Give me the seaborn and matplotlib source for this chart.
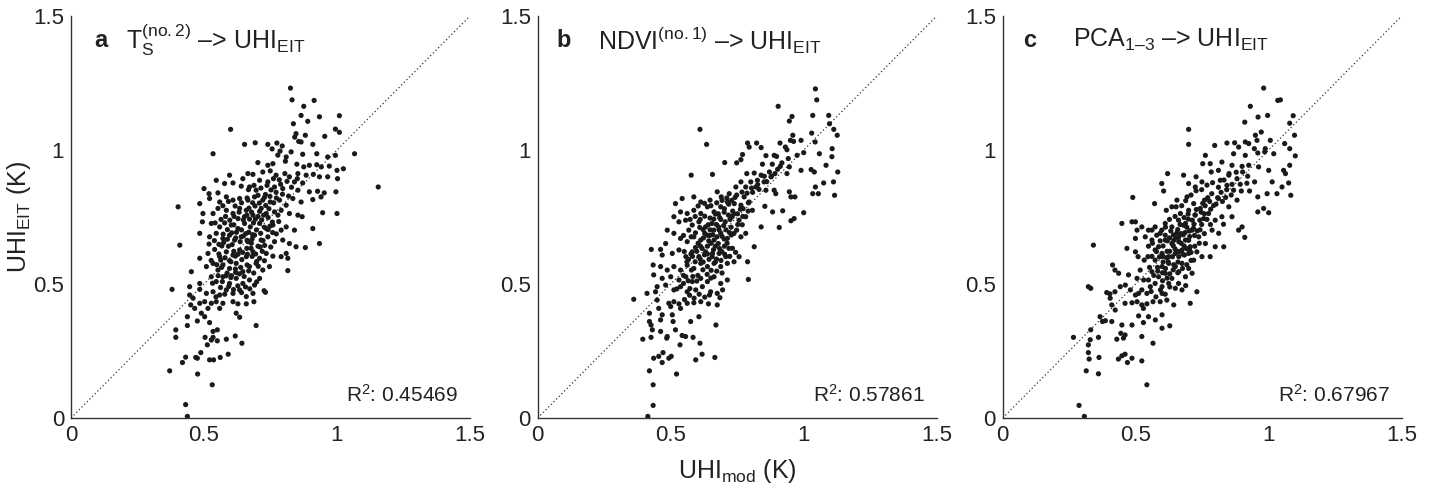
import matplotlib
matplotlib.use("Agg")
import matplotlib.pyplot as plt
import seaborn as sns
import pandas as pd

# ---- data: (UHI_mod, UHI_EIT) pairs ----
panel_a_pts = [
    (0.825,1.231),(0.831,1.187),(0.914,1.185),(0.875,1.163),(0.865,1.129),(0.934,1.124),(1.009,1.128),
    (0.836,1.098),(0.89,1.107),(0.60,1.077),(0.994,1.078),(1.009,1.066),(0.846,1.061),(0.881,1.055),
    (0.954,1.051),(0.841,1.048),(0.856,1.032),(0.865,1.03),(0.6525,1.021),(0.6925,1.027),(0.74,1.021),
    (0.774,1.026),(0.794,1.015),(0.909,1.021),(0.756,1.004),(0.534,0.986),(0.786,0.996),(0.8275,0.993),
    (0.871,0.984),(0.924,0.986),(0.965,0.974),(0.994,0.98),(1.066,0.986),(0.809,0.974),(0.7775,0.981),
    (0.7025,0.953),(0.74,0.943),(0.759,0.949),(0.806,0.958),(0.849,0.947),(0.875,0.937),(0.896,0.943),
    (0.924,0.945),(0.941,0.937),(0.971,0.94),(1.024,0.93),(1.0,0.924),(0.596,0.906),(0.665,0.912),
    (0.684,0.909),(0.721,0.918),(0.749,0.922),(0.771,0.906),(0.804,0.912),(0.821,0.9),(0.853,0.912),
    (0.884,0.906),(0.911,0.909),(0.934,0.9),(0.965,0.9),(1.002,0.893),(0.546,0.887),(0.646,0.893),
    (0.709,0.887),(0.74,0.881),(0.84,0.881),(0.871,0.877),(0.5,0.856),(0.5775,0.875),(0.609,0.877),
    (0.64,0.865),(0.671,0.862),(0.696,0.85),(0.765,0.862),(0.796,0.856),(0.853,0.85),(0.896,0.844),
    (0.927,0.846),(0.952,0.84),(0.996,0.844),(1.155,0.862),(0.519,0.837),(0.5525,0.84),(0.484,0.8),
    (0.521,0.819),(0.559,0.806),(0.584,0.825),(0.609,0.813),(0.634,0.819),(0.665,0.813),(0.69,0.825),
    (0.721,0.813),(0.749,0.806),(0.784,0.813),(0.809,0.794),(0.834,0.819),(0.865,0.806),(0.909,0.815),
    (0.94,0.825),(0.4025,0.788),(0.496,0.763),(0.534,0.763),(0.5525,0.782),(0.584,0.775),(0.609,0.763),
    (0.634,0.782),(0.659,0.775),(0.684,0.757),(0.715,0.782),(0.734,0.763),(0.765,0.769),(0.79,0.775),
    (0.821,0.763),(0.853,0.757),(0.869,0.751),(0.946,0.766),(1.0,0.763),(0.494,0.732),(0.5275,0.726),
    (0.559,0.713),(0.5775,0.728),(0.6025,0.72),(0.6275,0.707),(0.6525,0.726),(0.674,0.713),(0.709,0.726),
    (0.734,0.707),(0.759,0.72),(0.79,0.701),(0.809,0.713),(0.84,0.701),(0.909,0.707),(0.484,0.689),
    (0.521,0.676),(0.546,0.689),(0.571,0.67),(0.596,0.682),(0.615,0.664),(0.64,0.676),(0.665,0.658),
    (0.69,0.682),(0.715,0.664),(0.74,0.676),(0.765,0.658),(0.796,0.664),(0.821,0.651),(0.846,0.639),
    (0.881,0.636),(0.934,0.651),(0.409,0.645),(0.519,0.649),(0.484,0.596),(0.515,0.614),(0.54,0.629),
    (0.559,0.602),(0.584,0.62),(0.609,0.608),(0.634,0.627),(0.659,0.602),(0.684,0.62),(0.709,0.596),
    (0.734,0.614),(0.759,0.604),(0.79,0.602),(0.809,0.614),(0.815,0.596),(0.509,0.565),(0.534,0.577),
    (0.5525,0.552),(0.571,0.571),(0.596,0.558),(0.621,0.577),(0.646,0.546),(0.671,0.565),(0.696,0.577),
    (0.721,0.552),(0.746,0.565),(0.815,0.55),(0.4525,0.546),(0.5275,0.527),(0.546,0.509),(0.571,0.527),
    (0.596,0.502),(0.621,0.521),(0.646,0.502),(0.671,0.515),(0.69,0.496),(0.709,0.521),(0.484,0.502),
    (0.446,0.49),(0.38,0.48),(0.484,0.48),(0.509,0.465),(0.534,0.471),(0.559,0.459),(0.584,0.478),
    (0.609,0.465),(0.634,0.478),(0.659,0.453),(0.684,0.465),(0.731,0.469),(0.726,0.475),(0.446,0.459),
    (0.459,0.447),(0.484,0.428),(0.5025,0.434),(0.5275,0.428),(0.546,0.434),(0.571,0.428),(0.609,0.434),
    (0.6275,0.426),(0.659,0.426),(0.6875,0.434),(0.45,0.422),(0.465,0.409),(0.515,0.409),(0.559,0.409),
    (0.621,0.391),(0.634,0.376),(0.49,0.391),(0.4375,0.378),(0.5025,0.378),(0.475,0.362),(0.521,0.356),
    (0.4375,0.345),(0.696,0.345),(0.55,0.329),(0.394,0.329),(0.534,0.323),(0.394,0.301),(0.504,0.301),
    (0.534,0.301),(0.55,0.288),(0.584,0.294),(0.6175,0.306),(0.5125,0.273),(0.6425,0.279),(0.5275,0.291),
    (0.419,0.207),(0.431,0.227),(0.469,0.226),(0.475,0.223),(0.488,0.244),(0.521,0.217),(0.536,0.217),
    (0.561,0.226),(0.591,0.238),(0.371,0.176),(0.476,0.164),(0.531,0.124),(0.431,0.05),(0.4375,0.006),
    (0.574,0.655),(0.592,0.641),(0.606,0.647),(0.622,0.693),(0.641,0.702),(0.657,0.688),(0.671,0.742),
    (0.686,0.728),(0.703,0.752),(0.717,0.739),(0.732,0.793),(0.744,0.781),(0.762,0.803),(0.601,0.583),
    (0.618,0.604),(0.642,0.591),(0.661,0.633),(0.678,0.652),(0.703,0.641),(0.722,0.662),(0.741,0.703),
    (0.758,0.692),(0.781,0.733),(0.566,0.562),(0.583,0.531),(0.601,0.524),(0.619,0.543),(0.638,0.562),
    (0.662,0.571),(0.681,0.603),(0.698,0.584),(0.719,0.622),(0.556,0.612),(0.567,0.642),(0.588,0.703),
    (0.612,0.721),(0.628,0.744),(0.652,0.751),(0.669,0.783),(0.692,0.791),(0.708,0.802),(0.731,0.834),
    (0.752,0.851),(0.771,0.842),(0.788,0.872),(0.812,0.883),(0.829,0.861),(0.851,0.893),(0.662,0.663),
    (0.683,0.684),
    (0.545,0.452),(0.562,0.487),(0.578,0.462),(0.593,0.491),(0.611,0.479),(0.627,0.493),(0.641,0.468),
    (0.656,0.489),(0.672,0.482),(0.698,0.508),(0.532,0.503),(0.553,0.531),(0.569,0.509),(0.587,0.541),
    (0.603,0.531),(0.618,0.556),(0.633,0.538),(0.651,0.528),(0.668,0.549),(0.687,0.541),(0.704,0.566),
    (0.727,0.587),(0.527,0.588),(0.548,0.572),(0.563,0.589),(0.579,0.598),(0.596,0.587),(0.612,0.622),
    (0.628,0.611),(0.645,0.618),(0.663,0.611),(0.677,0.633),(0.694,0.612),(0.711,0.638),(0.728,0.644),
    (0.751,0.638),(0.539,0.662),(0.556,0.648),(0.572,0.686),(0.588,0.667),(0.604,0.691),(0.619,0.672),
    (0.636,0.658),(0.648,0.679),(0.668,0.693),(0.681,0.668),(0.697,0.702),(0.713,0.689),(0.727,0.712),
    (0.748,0.716),(0.772,0.687),(0.542,0.728),(0.564,0.741),(0.581,0.752),(0.597,0.738),(0.613,0.752),
    (0.632,0.768),(0.648,0.739),(0.661,0.757),(0.679,0.768),(0.693,0.742),(0.709,0.771),(0.724,0.757),
    (0.741,0.748),(0.757,0.731),(0.778,0.757),(0.571,0.792),(0.592,0.808),(0.617,0.791),(0.641,0.803),
    (0.662,0.821),(0.683,0.803),(0.703,0.831),(0.727,0.823),(0.748,0.827),(0.772,0.821),(0.795,0.835),
    (0.818,0.828),(0.667,0.852),(0.688,0.868),(0.714,0.858),(0.737,0.868),(0.761,0.893),(0.783,0.889),
]

panel_b_pts = [
    (1.044,1.228),(1.049,1.187),(0.904,1.163),(0.956,1.125),(0.946,1.108),(1.034,1.129),(1.094,1.129),
    (1.097,1.098),(0.61,1.077),(1.113,1.077),(1.126,1.055),(0.959,1.055),(0.95,1.036),(0.635,1.021),
    (1.03,1.063),(0.962,1.032),(0.911,1.026),(0.931,1.011),(0.99,1.036),(1.043,1.03),(0.789,1.026),
    (0.823,1.026),(0.795,1.011),(0.84,1.009),(1.107,1.005),(1.059,0.986),(1.0,0.99),(0.975,0.98),
    (0.937,1.001),(0.858,0.979),(0.889,0.98),(0.898,0.976),(0.77,0.983),(1.106,0.975),(0.703,0.953),
    (0.748,0.952),(0.764,0.964),(0.845,0.947),(0.882,0.947),(0.912,0.939),(0.946,0.937),(0.99,0.924),
    (1.028,0.927),(1.084,0.943),(1.128,0.918),(1.04,0.918),(0.937,0.912),(0.577,0.906),(0.657,0.909),
    (0.786,0.912),(0.814,0.914),(0.84,0.906),(0.877,0.9),(1.075,0.877),(1.112,0.881),(1.044,0.862),
    (1.055,0.837),(1.034,0.837),(1.116,0.831),(0.946,0.844),(0.952,0.825),(0.967,0.825),(0.858,0.85),
    (0.889,0.85),(0.895,0.837),(1.0,0.766),(0.964,0.744),(0.952,0.736),(0.908,0.711),(0.84,0.713),
    (0.792,0.517),(0.789,0.583),(0.814,0.639),(0.854,0.79),(0.883,0.769),(0.921,0.773),
    (0.518,0.8),(0.543,0.819),(0.587,0.825),(0.613,0.806),(0.648,0.813),(0.675,0.844),(0.69,0.825),
    (0.72,0.837),(0.745,0.862),(0.764,0.881),(0.782,0.862),(0.801,0.881),(0.826,0.887),(0.851,0.881),
    (0.82,0.862),(0.776,0.825),(0.795,0.806),(0.807,0.775),(0.764,0.794),(0.739,0.8),(0.713,0.806),
    (0.688,0.788),(0.663,0.769),(0.638,0.788),(0.613,0.763),(0.587,0.775),(0.562,0.763),(0.537,0.769),
    (0.512,0.751),(0.531,0.732),(0.556,0.738),(0.581,0.72),(0.606,0.732),(0.631,0.713),(0.655,0.726),
    (0.68,0.713),(0.705,0.732),(0.731,0.751),(0.757,0.738),(0.782,0.751),(0.782,0.689),(0.764,0.676),
    (0.738,0.689),(0.713,0.67),(0.688,0.689),(0.663,0.664),(0.638,0.682),(0.613,0.664),(0.587,0.676),
    (0.562,0.658),(0.537,0.67),(0.512,0.689),(0.487,0.701),(0.481,0.651),(0.462,0.629),(0.427,0.629),
    (0.468,0.608),(0.506,0.614),(0.531,0.627),(0.557,0.602),(0.581,0.62),(0.606,0.602),(0.631,0.62),
    (0.656,0.602),(0.682,0.614),(0.707,0.602),(0.732,0.633),(0.757,0.602),(0.738,0.583),(0.713,0.577),
    (0.688,0.565),(0.663,0.577),(0.638,0.565),(0.613,0.577),(0.587,0.558),(0.562,0.57),(0.537,0.552),
    (0.512,0.565),(0.487,0.552),(0.462,0.565),(0.434,0.571),(0.436,0.534),(0.468,0.521),(0.5,0.527),
    (0.531,0.515),(0.557,0.527),(0.581,0.509),(0.613,0.521),(0.638,0.509),(0.663,0.527),(0.688,0.502),
    (0.713,0.515),(0.449,0.49),(0.481,0.496),(0.512,0.478),(0.537,0.49),(0.562,0.471),(0.594,0.478),
    (0.619,0.49),(0.65,0.471),(0.675,0.465),(0.695,0.478),(0.361,0.443),(0.411,0.465),(0.443,0.471),
    (0.449,0.44),(0.493,0.428),(0.512,0.434),(0.531,0.426),(0.562,0.428),(0.587,0.43),(0.613,0.434),
    (0.642,0.426),(0.675,0.422),(0.685,0.449),(0.455,0.409),(0.5,0.416),(0.537,0.409),(0.468,0.385),
    (0.506,0.385),(0.42,0.391),(0.462,0.366),(0.509,0.36),(0.575,0.36),(0.606,0.378),(0.67,0.347),
    (0.426,0.347),(0.431,0.329),(0.42,0.36),(0.426,0.301),(0.395,0.294),(0.462,0.323),(0.487,0.304),
    (0.485,0.298),(0.518,0.329),(0.543,0.308),(0.556,0.304),(0.584,0.301),(0.535,0.273),(0.61,0.279),
    (0.594,0.217),(0.618,0.238),(0.666,0.226),(0.436,0.223),(0.455,0.23),(0.468,0.207),(0.471,0.244),
    (0.493,0.223),(0.502,0.23),(0.42,0.176),(0.522,0.164),(0.434,0.124),(0.434,0.047),(0.414,0.006),
    (0.622,0.703),(0.641,0.721),(0.662,0.742),(0.679,0.762),(0.702,0.781),(0.718,0.798),(0.742,0.823),
    (0.603,0.652),(0.618,0.633),(0.643,0.661),(0.658,0.684),(0.682,0.702),(0.699,0.718),(0.723,0.741),
    (0.738,0.762),(0.762,0.779),(0.582,0.603),(0.598,0.622),(0.622,0.582),(0.638,0.612),(0.661,0.628),
    (0.679,0.651),(0.701,0.668),(0.721,0.692),(0.561,0.583),(0.578,0.552),(0.602,0.532),(0.548,0.502),
    (0.572,0.483),(0.652,0.551),(0.668,0.582),(0.692,0.621),(0.712,0.652),(0.728,0.683),(0.752,0.722),
    (0.771,0.752),(0.792,0.803),(0.808,0.842),(0.832,0.853),(0.861,0.882),(0.879,0.902),(0.902,0.928),
    (0.918,0.952),(0.942,0.968),(0.623,0.672),(0.648,0.702),(0.672,0.722),(0.688,0.741),
    (0.552,0.442),(0.571,0.458),(0.588,0.447),(0.607,0.462),(0.628,0.451),(0.646,0.459),(0.523,0.482),
    (0.548,0.532),(0.566,0.512),(0.583,0.528),(0.598,0.511),(0.621,0.553),(0.637,0.536),(0.651,0.522),
    (0.673,0.548),(0.693,0.541),(0.551,0.621),(0.567,0.592),(0.576,0.612),(0.592,0.583),(0.611,0.593),
    (0.627,0.609),(0.644,0.592),(0.657,0.614),(0.672,0.593),(0.689,0.588),(0.703,0.611),(0.722,0.603),
    (0.744,0.618),(0.548,0.681),(0.568,0.701),(0.577,0.676),(0.593,0.691),(0.609,0.711),(0.628,0.689),
    (0.647,0.681),(0.662,0.701),(0.674,0.676),(0.693,0.678),(0.708,0.702),(0.727,0.712),(0.748,0.701),
    (0.769,0.721),(0.573,0.741),(0.592,0.752),(0.611,0.741),(0.628,0.753),(0.648,0.746),(0.668,0.761),
    (0.684,0.748),(0.701,0.768),(0.717,0.757),(0.733,0.772),(0.751,0.762),(0.772,0.781),(0.791,0.772),
    (0.603,0.791),(0.627,0.801),(0.651,0.792),(0.673,0.803),(0.693,0.812),(0.711,0.821),(0.729,0.812),
    (0.748,0.832),(0.768,0.843),(0.787,0.839),(0.804,0.858),(0.827,0.871),(0.852,0.902),(0.871,0.918),
    (0.892,0.912),(0.638,0.641),(0.652,0.652),(0.668,0.641),(0.684,0.632),(0.702,0.641),(0.719,0.633),
    (0.612,0.641),(0.593,0.636),
]

panel_c_pts = [
    (0.981,1.231),(1.034,1.185),(1.044,1.187),(0.931,1.163),(0.91,1.104),(0.96,1.123),(0.996,1.129),
    (1.092,1.128),(1.079,1.1),(0.699,1.077),(0.699,1.021),(0.797,1.017),(0.972,1.067),(0.95,1.055),
    (1.097,1.055),(1.006,1.036),(1.06,1.024),(1.079,1.005),(0.912,1.03),(0.925,1.024),(0.956,1.036),
    (0.946,1.005),(0.987,1.005),(1.019,0.986),(0.959,0.989),(0.985,0.993),(1.1,0.978),(0.872,1.027),
    (0.843,1.026),(0.887,1.011),(0.868,0.986),(0.912,0.98),(0.762,0.98),(0.752,0.949),(0.78,0.949),
    (0.824,0.955),(0.862,0.943),(0.9,0.939),(0.925,0.943),(0.962,0.937),(1.0,0.924),(1.079,0.943),
    (1.056,0.924),(1.063,0.912),(1.075,0.877),(1.013,0.881),(1.031,0.837),(1.05,0.862),(1.083,0.831),
    (0.994,0.837),(0.959,0.825),(0.981,0.782),(1.0,0.766),(0.959,0.769),(0.947,0.881),(0.91,0.674),
    (0.887,0.701),(0.9,0.713),(0.928,0.847),(0.897,0.847),(0.62,0.912),(0.598,0.875),(0.605,0.847),
    (0.489,0.823),(0.571,0.8),(0.68,0.906),(0.727,0.9),(0.724,0.862),(0.699,0.875),(0.749,0.881),
    (0.784,0.918),(0.811,0.924),(0.85,0.906),(0.818,0.887),(0.843,0.868),(0.868,0.85),(0.881,0.813),
    (0.85,0.788),(0.811,0.819),(0.786,0.837),(0.759,0.813),(0.824,0.751),(0.862,0.751),(0.83,0.723),
    (0.799,0.738),(0.774,0.763),(0.743,0.782),(0.718,0.8),(0.693,0.825),(0.655,0.813),(0.636,0.788),
    (0.615,0.775),(0.668,0.763),(0.699,0.775),(0.724,0.757),(0.756,0.744),(0.787,0.701),(0.812,0.689),
    (0.831,0.639),(0.799,0.639),(0.78,0.602),(0.762,0.651),(0.737,0.676),(0.712,0.701),(0.687,0.726),
    (0.661,0.738),(0.636,0.713),(0.611,0.726),(0.592,0.689),(0.573,0.713),(0.548,0.701),(0.536,0.676),
    (0.561,0.664),(0.586,0.639),(0.611,0.664),(0.636,0.651),(0.662,0.676),(0.687,0.664),(0.705,0.639),
    (0.73,0.62),(0.749,0.602),(0.718,0.589),(0.699,0.614),(0.674,0.627),(0.649,0.614),(0.624,0.602),
    (0.599,0.614),(0.573,0.627),(0.573,0.589),(0.599,0.565),(0.624,0.577),(0.649,0.565),(0.674,0.577),
    (0.699,0.558),(0.712,0.54),(0.687,0.527),(0.662,0.546),(0.636,0.521),(0.611,0.54),(0.586,0.527),
    (0.561,0.546),(0.548,0.515),(0.573,0.502),(0.599,0.49),(0.624,0.502),(0.649,0.484),(0.674,0.478),
    (0.73,0.471),(0.705,0.428),(0.599,0.465),(0.617,0.44),(0.643,0.422),(0.592,0.434),
    (0.448,0.726),(0.486,0.732),(0.499,0.732),(0.505,0.701),(0.499,0.67),(0.467,0.633),(0.499,0.62),
    (0.509,0.602),(0.523,0.713),(0.341,0.645),(0.413,0.571),(0.422,0.552),(0.436,0.54),(0.473,0.534),
    (0.505,0.521),(0.517,0.552),(0.53,0.515),(0.322,0.49),(0.331,0.484),(0.391,0.468),(0.403,0.463),
    (0.422,0.471),(0.442,0.49),(0.461,0.496),(0.48,0.478),(0.499,0.459),(0.511,0.465),(0.523,0.478),
    (0.542,0.465),(0.555,0.49),(0.404,0.447),(0.41,0.422),(0.423,0.403),(0.46,0.428),(0.486,0.43),
    (0.505,0.434),(0.523,0.422),(0.542,0.426),(0.565,0.434),(0.529,0.409),(0.511,0.381),(0.548,0.378),
    (0.599,0.385),(0.574,0.366),(0.366,0.378),(0.375,0.36),(0.386,0.363),(0.41,0.36),(0.448,0.347),
    (0.529,0.356),(0.599,0.335),(0.628,0.344),(0.331,0.329),(0.36,0.301),(0.329,0.292),(0.322,0.273),
    (0.429,0.294),(0.444,0.316),(0.454,0.298),(0.46,0.31),(0.523,0.304),(0.486,0.347),(0.266,0.301),
    (0.565,0.279),(0.322,0.244),(0.325,0.22),(0.362,0.226),(0.435,0.22),(0.448,0.232),(0.46,0.238),
    (0.469,0.207),(0.486,0.223),(0.523,0.213),(0.314,0.176),(0.36,0.165),(0.542,0.124),(0.287,0.047),
    (0.307,0.006),
    (0.602,0.603),(0.618,0.622),(0.641,0.643),(0.662,0.658),(0.679,0.684),(0.702,0.698),(0.719,0.723),
    (0.741,0.738),(0.758,0.762),(0.782,0.779),(0.622,0.583),(0.638,0.602),(0.661,0.621),(0.682,0.642),
    (0.699,0.663),(0.721,0.681),(0.742,0.702),(0.603,0.642),(0.619,0.661),(0.642,0.683),(0.658,0.703),
    (0.681,0.719),(0.698,0.742),(0.723,0.758),(0.582,0.562),(0.601,0.542),(0.618,0.522),(0.641,0.553),
    (0.659,0.582),(0.683,0.608),(0.702,0.628),(0.578,0.621),(0.561,0.603),(0.652,0.672),(0.671,0.688),
    (0.692,0.712),(0.752,0.801),(0.771,0.822),(0.802,0.798),(0.821,0.842),(0.838,0.823),(0.862,0.872),
    (0.881,0.893),(0.902,0.918),(0.921,0.902),(0.632,0.698),(0.611,0.682),(0.592,0.661),
    (0.558,0.472),(0.576,0.452),(0.593,0.478),(0.611,0.462),(0.628,0.489),(0.661,0.502),(0.688,0.494),
    (0.552,0.562),(0.568,0.532),(0.583,0.548),(0.601,0.512),(0.612,0.558),(0.628,0.538),(0.643,0.572),
    (0.658,0.542),(0.676,0.558),(0.692,0.572),(0.708,0.588),(0.589,0.601),(0.603,0.582),(0.616,0.598),
    (0.628,0.622),(0.648,0.631),(0.662,0.602),(0.677,0.612),(0.691,0.632),(0.708,0.618),(0.722,0.641),
    (0.739,0.652),(0.758,0.688),(0.598,0.701),(0.612,0.712),(0.627,0.672),(0.643,0.663),(0.655,0.691),
    (0.671,0.652),(0.686,0.692),(0.703,0.677),(0.717,0.708),(0.731,0.698),(0.748,0.722),(0.768,0.741),
    (0.781,0.722),(0.627,0.741),(0.648,0.752),(0.667,0.722),(0.682,0.748),(0.697,0.761),(0.713,0.738),
    (0.728,0.778),(0.746,0.768),(0.761,0.792),(0.778,0.808),(0.793,0.793),(0.808,0.822),(0.826,0.808),
    (0.842,0.852),(0.859,0.832),(0.652,0.788),(0.673,0.792),(0.688,0.811),(0.708,0.832),(0.727,0.848),
    (0.748,0.852),(0.768,0.869),(0.789,0.878),(0.811,0.861),(0.832,0.888),(0.851,0.912),(0.878,0.917),
    (0.893,0.872),(0.918,0.876),(0.532,0.589),(0.548,0.641),(0.563,0.652),(0.579,0.682),(0.561,0.701),
    (0.546,0.602),
]

panel_letters = ["a", "b", "c"]
panel_titles = [r"T$_\mathregular{S}^\mathregular{(no{.}2)}$ –> UHI$_\mathregular{EIT}$",
                r"NDVI$^\mathregular{(no{.}1)}$ –> UHI$_\mathregular{EIT}$",
                r"PCA$_\mathregular{1–3}$ –> UHI$_\mathregular{EIT}$"]
r2_labels = ["0.45469", "0.57861", "0.67967"]
tick_vals = [0, 0.5, 1, 1.5]
tick_text = ["0", "0.5", "1", "1.5"]

sns.set_theme(style="white")
plt.rcParams["font.family"] = ["Liberation Sans", "DejaVu Sans"]
plt.rcParams["mathtext.fontset"] = "custom"
plt.rcParams["mathtext.rm"] = "Liberation Sans"
plt.rcParams["mathtext.it"] = "Liberation Sans"
plt.rcParams["mathtext.bf"] = "Liberation Sans:bold"

fig = plt.figure(figsize=(14.35, 4.88), dpi=100)
W, H = 1435, 488
lefts = [71, 537.7, 1002.7]
ax_w, ax_h = 399, 402
bottom_px = 418

datasets = [panel_a_pts, panel_b_pts, panel_c_pts]
title_x = [(0.058, 0.1375), (0.048, 0.152), (0.05, 0.175)]
txt_col = "#222222"

for i, pts in enumerate(datasets):
    ax = fig.add_axes([lefts[i] / W, (H - bottom_px) / H, ax_w / W, ax_h / H])
    df = pd.DataFrame(pts, columns=["UHI_mod", "UHI_EIT"])
    ax.plot(tick_vals, tick_vals, linestyle=(0, (1, 2)), color="#333333", lw=0.9, zorder=1)
    sns.scatterplot(data=df, x="UHI_mod", y="UHI_EIT", ax=ax, s=14, color="#1a1a1a",
                    edgecolor="none", linewidth=0, zorder=2)
    ax.set_xlim(0, 1.5)
    ax.set_ylim(0, 1.5)
    ax.set_xticks(tick_vals)
    ax.set_xticklabels(tick_text)
    ax.set_yticks(tick_vals)
    ax.set_yticklabels(tick_text)
    ax.tick_params(direction="in", length=4, width=0.9, labelsize=16, colors=txt_col,
                   pad=5)
    for side in ["top", "right"]:
        ax.spines[side].set_visible(False)
    for side in ["left", "bottom"]:
        ax.spines[side].set_color("#333333")
        ax.spines[side].set_linewidth(1.0)
    ax.set_xlabel("")
    ax.set_ylabel("")
    ax.text(title_x[i][0], 0.94, panel_letters[i], transform=ax.transAxes, fontsize=17,
            fontweight="bold", va="center", ha="left", color=txt_col)
    ax.text(title_x[i][1], 0.94, panel_titles[i], transform=ax.transAxes, fontsize=18,
            va="center", ha="left", color=txt_col)
    ax.text(0.97, 0.057, r"R$^\mathregular{2}$: " + r2_labels[i], transform=ax.transAxes,
            fontsize=15, va="center", ha="right", color=txt_col)
    if i == 0:
        ax.set_ylabel(r"UHI$_\mathregular{EIT}$ (K)", fontsize=18, color=txt_col)
        ax.yaxis.set_label_coords(-0.095, 0.5)
    if i == 1:
        ax.set_xlabel(r"UHI$_\mathregular{mod}$ (K)", fontsize=18, color=txt_col, labelpad=8)

fig.savefig("out.png", dpi=100)
